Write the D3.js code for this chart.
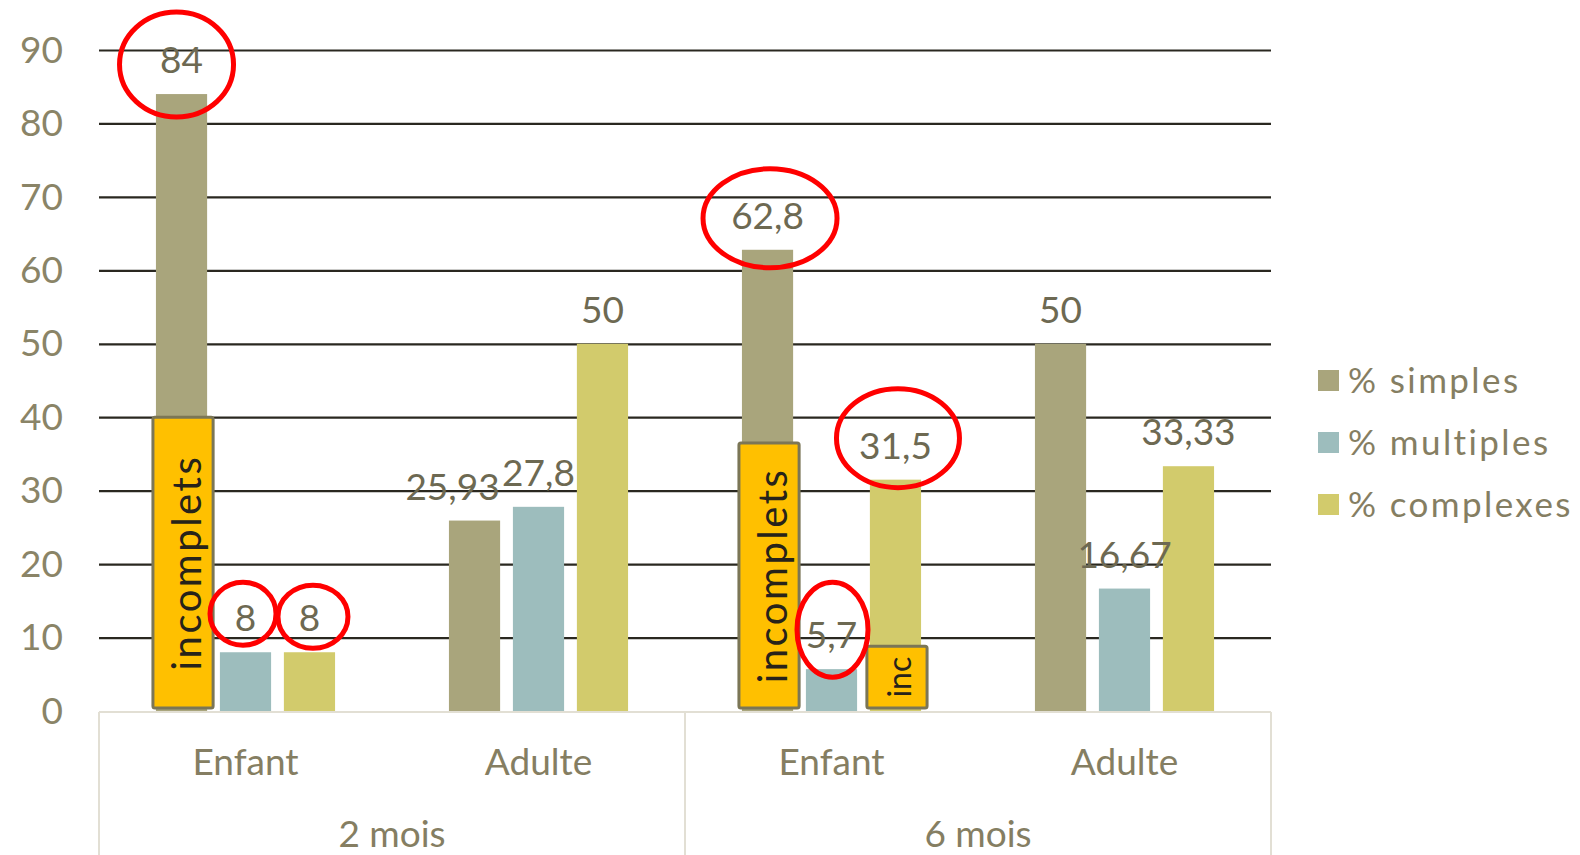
<!DOCTYPE html>
<html>
<head>
<meta charset="utf-8">
<style>
  body { margin: 0; background: #ffffff; }
  svg text { font-family: Lato, "Open Sans", sans-serif; }
</style>
<script src="https://cdn.jsdelivr.net/npm/d3@7"></script>
</head>
<body>
<div id="chart"></div>
<script>
// Data
var periods = ["2 mois", "6 mois"];
var groups = ["Enfant", "Adulte"];
var series = ["% simples", "% multiples", "% complexes"];
var simples = [84, 25.93, 62.8, 50];
var multiples = [8, 27.8, 5.7, 16.67];
var complexes = [8, 50, 31.5, 33.33];
var yTicks = [0, 10, 20, 30, 40, 50, 60, 70, 80, 90];

// "incomplets" overlays: category index, series index, top value, label
var incCats = [0, 2, 2];
var incSeries = [0, 0, 2];
var incTops = [40, 36.5, 8.8];
var incLabels = ["incomplets", "incomplets", "inc"];

// red circled labels: category index, series index
var circCats = [0, 0, 0, 2, 2, 2];
var circSeries = [0, 1, 2, 0, 1, 2];

const width = 1580, height = 855;
const colors = ["#a9a57c", "#9dbdbd", "#d2cb6c"];
const plotLeft = 99, plotRight = 1271, plotTop = 50, plotBottom = 711;

var categories = [];
periods.forEach(function(p) {
  groups.forEach(function(g) { categories.push(p + "|" + g); });
});
var values = [simples, multiples, complexes];

const svg = d3.select("#chart").append("svg")
  .attr("width", width)
  .attr("height", height);

const x0 = d3.scaleBand().domain(categories).range([plotLeft, plotRight]);
const x1 = d3.scaleBand().domain(d3.range(series.length))
  .range([0, x0.bandwidth()]).paddingInner(0.2).paddingOuter(0.89);
const y = d3.scaleLinear().domain([0, 90]).range([plotBottom, plotTop]);

// gridlines + y labels
const yAxis = svg.append("g")
  .attr("transform", "translate(" + plotLeft + ",0)")
  .call(d3.axisLeft(y).tickValues(yTicks).tickSize(-(plotRight - plotLeft)).tickPadding(36));
yAxis.select(".domain").remove();
yAxis.selectAll(".tick line")
  .attr("stroke", "#2a2820")
  .attr("stroke-width", 2.2)
  .style("display", function(d) { return d === 0 ? "none" : null; });
yAxis.selectAll(".tick text")
  .attr("fill", "#8a8467")
  .style("font-size", "37px")
  .attr("dy", "0.33em");

// bars
var barData = [];
categories.forEach(function(c, ci) {
  series.forEach(function(s, si) {
    barData.push({ cat: ci, ser: si, value: values[si][ci] });
  });
});
function barX(d) { return x0(categories[d.cat]) + x1(d.ser); }

svg.append("g").selectAll("rect")
  .data(barData).enter()
  .append("rect")
  .attr("x", barX)
  .attr("y", function(d) { return y(d.value); })
  .attr("width", x1.bandwidth())
  .attr("height", function(d) { return y(0) - y(d.value); })
  .attr("fill", function(d) { return colors[d.ser]; });

// value labels
function fmt(v) { return String(v).replace(".", ","); }
svg.append("g").selectAll("text")
  .data(barData).enter()
  .append("text")
  .attr("x", function(d) {
    var shift = (d.cat === 1 && d.ser === 0) ? -22 : 0; // Excel pushed this one left
    return barX(d) + x1.bandwidth() / 2 + shift;
  })
  .attr("y", function(d) { return y(d.value) - 21; })
  .attr("text-anchor", "middle")
  .attr("fill", "#6d6952")
  .style("font-size", "37px")
  .text(function(d) { return fmt(d.value); });

// category axis (light box lines)
const axisColor = "#e2dfd4";
svg.append("line")
  .attr("x1", plotLeft).attr("x2", plotRight)
  .attr("y1", plotBottom + 1).attr("y2", plotBottom + 1)
  .attr("stroke", axisColor).attr("stroke-width", 2);
var seps = [plotLeft, x0(categories[2]), plotRight];
svg.append("g").selectAll("line")
  .data(seps).enter()
  .append("line")
  .attr("x1", function(d) { return d; }).attr("x2", function(d) { return d; })
  .attr("y1", plotBottom + 1).attr("y2", height)
  .attr("stroke", axisColor).attr("stroke-width", 2);

svg.append("g").selectAll("text")
  .data(categories).enter()
  .append("text")
  .attr("x", function(d) { return x0(d) + x0.bandwidth() / 2; })
  .attr("y", 775)
  .attr("text-anchor", "middle")
  .attr("fill", "#857e62")
  .style("font-size", "37px")
  .text(function(d) { return d.split("|")[1]; });

svg.append("g").selectAll("text")
  .data(periods).enter()
  .append("text")
  .attr("x", function(d) { return x0(d + "|" + groups[0]) + x0.bandwidth(); })
  .attr("y", 847)
  .attr("text-anchor", "middle")
  .attr("fill", "#857e62")
  .style("font-size", "37px")
  .text(function(d) { return d; });

// "incomplets" boxes
var incData = incCats.map(function(c, i) {
  return { cat: c, ser: incSeries[i], top: incTops[i], label: incLabels[i] };
});
var incG = svg.append("g").selectAll("g")
  .data(incData).enter()
  .append("g");
incG.append("rect")
  .attr("x", function(d) { return barX(d) - 3; })
  .attr("y", function(d) { return y(d.top); })
  .attr("width", x1.bandwidth() + 9)
  .attr("height", function(d) { return y(0) - y(d.top) - 3; })
  .attr("rx", 2)
  .attr("fill", "#ffc000")
  .attr("stroke", "#7b7656")
  .attr("stroke-width", 3);
incG.append("text")
  .attr("transform", function(d) {
    var cx = barX(d) - 3 + (x1.bandwidth() + 9) / 2;
    var cy = (y(d.top) + y(0) - 3) / 2;
    var fs = d.label.length > 4 ? 40 : 32;
    return "translate(" + (cx + fs * 0.44) + "," + cy + ") rotate(-90)";
  })
  .attr("text-anchor", "middle")
  .attr("fill", "#27231a")
  .style("font-size", function(d) { return d.label.length > 4 ? "40px" : "32px"; })
  .style("letter-spacing", function(d) { return d.label.length > 4 ? "2.5px" : "0px"; })
  .text(function(d) { return d.label; });

// red ellipses round the labels
var circShape = [
  { rx: 57, ry: 52.5, dx: -5, dy: 5 },
  { rx: 33, ry: 31.5, dx: -2.5, dy: -4 },
  { rx: 35, ry: 31.5, dx: 3.5, dy: -1 },
  { rx: 67, ry: 49.5, dx: 2.5, dy: 3 },
  { rx: 35.5, ry: 47.5, dx: 1, dy: -5 },
  { rx: 61.5, ry: 49.5, dx: 2.5, dy: -7 }
];
svg.append("g").selectAll("ellipse")
  .data(circCats.map(function(c, i) { return { cat: c, ser: circSeries[i], shape: circShape[i] }; }))
  .enter()
  .append("ellipse")
  .attr("cx", function(d) { return barX(d) + x1.bandwidth() / 2 + d.shape.dx; })
  .attr("cy", function(d) { return y(values[d.ser][d.cat]) - 34.5 + d.shape.dy; })
  .attr("rx", function(d) { return d.shape.rx; })
  .attr("ry", function(d) { return d.shape.ry; })
  .attr("fill", "none")
  .attr("stroke", "#ff0000")
  .attr("stroke-width", 5);

// legend
var legend = svg.append("g").attr("transform", "translate(1318, 370)");
var item = legend.selectAll("g")
  .data(series).enter()
  .append("g")
  .attr("transform", function(d, i) { return "translate(0," + i * 62 + ")"; });
item.append("rect")
  .attr("width", 21).attr("height", 21)
  .attr("fill", function(d, i) { return colors[i]; });
item.append("text")
  .attr("x", 30)
  .attr("y", 23)
  .attr("fill", "#857e62")
  .style("font-size", "35px")
  .style("letter-spacing", "2.4px")
  .text(function(d) { return d; });
</script>
</body>
</html>
